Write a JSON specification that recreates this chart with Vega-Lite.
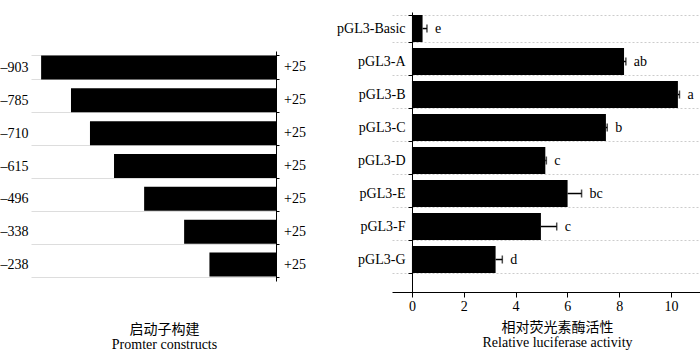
{
  "$schema": "https://vega.github.io/schema/vega-lite/v6.json",
  "padding": {"top": 5, "left": 0, "right": 0, "bottom": 0},
  "spacing": 30,
  "config": {
    "view": {"stroke": null},
    "font": "Liberation Serif",
    "axis": {"labelFont": "Liberation Serif", "titleFont": "Liberation Serif, Noto Sans CJK SC", "labelColor": "black", "titleColor": "black", "titleFontWeight": "normal"}
  },
  "datasets": {
    "constructs": [
      {"construct": "–903", "start": -903, "end": 25, "endLabel": "+25"},
      {"construct": "–785", "start": -785, "end": 25, "endLabel": "+25"},
      {"construct": "–710", "start": -710, "end": 25, "endLabel": "+25"},
      {"construct": "–615", "start": -615, "end": 25, "endLabel": "+25"},
      {"construct": "–496", "start": -496, "end": 25, "endLabel": "+25"},
      {"construct": "–338", "start": -338, "end": 25, "endLabel": "+25"},
      {"construct": "–238", "start": -238, "end": 25, "endLabel": "+25"}
    ],
    "activity": [
      {"name": "pGL3-Basic", "activity": 0.41, "upper": 0.58, "letter": "e"},
      {"name": "pGL3-A", "activity": 8.19, "upper": 8.26, "letter": "ab"},
      {"name": "pGL3-B", "activity": 10.27, "upper": 10.33, "letter": "a"},
      {"name": "pGL3-C", "activity": 7.49, "upper": 7.54, "letter": "b"},
      {"name": "pGL3-D", "activity": 5.15, "upper": 5.19, "letter": "c"},
      {"name": "pGL3-E", "activity": 6.01, "upper": 6.55, "letter": "bc"},
      {"name": "pGL3-F", "activity": 4.98, "upper": 5.59, "letter": "c"},
      {"name": "pGL3-G", "activity": 3.23, "upper": 3.49, "letter": "d"}
    ]
  },
  "hconcat": [
    {
      "spacing": 20,
      "vconcat": [
        {
          "width": 245,
          "height": 12,
          "data": {"values": [{}]},
          "mark": {"type": "text", "text": ""},
          "encoding": {}
        },
        {
          "width": 245,
          "height": 230,
          "data": {"name": "constructs"},
          "layer": [
            {
              "mark": {"type": "bar", "color": "black"},
              "encoding": {
                "y": {
                  "field": "construct", "type": "nominal", "sort": null,
                  "scale": {"paddingInner": 0.27, "paddingOuter": 0.135},
                  "axis": {"title": null, "orient": "left", "domain": false, "ticks": false, "labelPadding": 3, "labelFontSize": 14, "grid": true, "tickBand": "extent", "gridColor": "#dddddd", "gridWidth": 1}
                },
                "x": {
                  "field": "start", "type": "quantitative",
                  "scale": {"domain": [-943, 25], "nice": false, "zero": false},
                  "axis": {"orient": "bottom", "domain": false, "ticks": false, "labels": false, "grid": false, "title": ["启动子构建", "Promter constructs"], "titleFontSize": 14, "titleX": 133, "titleY": 48, "titleBaseline": "middle", "titleLineHeight": 15}
                },
                "x2": {"field": "end"}
              }
            },
            {
              "mark": {"type": "text", "align": "left", "dx": 8, "fontSize": 14, "baseline": "middle", "color": "black"},
              "encoding": {
                "y": {
                  "field": "construct", "type": "nominal", "sort": null,
                  "axis": {"orient": "right", "labels": false, "title": null, "domain": true, "domainColor": "black", "ticks": true, "tickBand": "extent", "tickSize": 3, "tickColor": "black", "grid": false}
                },
                "x": {"field": "end", "type": "quantitative"},
                "text": {"field": "endLabel"}
              }
            }
          ],
          "resolve": {"axis": {"y": "independent"}}
        }
      ]
    },
    {
      "width": 310,
      "height": 280,
      "data": {"name": "activity"},
      "layer": [
        {
          "mark": {"type": "bar", "color": "black"},
          "encoding": {
            "y": {
              "field": "name", "type": "nominal", "sort": null,
              "scale": {"paddingInner": 0.18, "paddingOuter": 0.333, "align": 0.137},
              "axis": {"title": null, "offset": -20, "domainColor": "black", "tickColor": "black", "tickSize": 4, "tickBand": "extent", "labelFontSize": 14, "labelPadding": 3, "grid": true, "gridColor": "#cccccc", "gridDash": [2, 2]}
            },
            "x": {
              "field": "activity", "type": "quantitative",
              "scale": {"domain": [-0.77, 11.2], "nice": false, "zero": false},
              "axis": {"title": ["相对荧光素酶活性", "Relative luciferase activity"], "values": [0, 1, 2, 3, 4, 5, 6, 7, 8, 9, 10, 11], "labelExpr": "datum.value % 2 === 0 ? datum.label : ''", "domainColor": "black", "tickColor": "black", "tickSize": 5, "labelFontSize": 14, "labelPadding": 2, "labelFlush": false, "grid": false, "titleFontSize": 14, "titleX": 165, "titleY": 35, "titleBaseline": "middle", "titleLineHeight": 15}
            },
            "x2": {"datum": 0}
          }
        },
        {
          "mark": {"type": "rule", "strokeWidth": 1.5, "color": "black"},
          "encoding": {
            "y": {"field": "name", "type": "nominal", "sort": null},
            "x": {"field": "activity", "type": "quantitative"},
            "x2": {"field": "upper"}
          }
        },
        {
          "mark": {"type": "tick", "thickness": 1.5, "size": 8, "color": "black", "orient": "vertical"},
          "encoding": {
            "y": {"field": "name", "type": "nominal", "sort": null},
            "x": {"field": "upper", "type": "quantitative"}
          }
        },
        {
          "mark": {"type": "text", "align": "left", "dx": 8, "fontSize": 14, "baseline": "middle", "color": "black"},
          "encoding": {
            "y": {"field": "name", "type": "nominal", "sort": null},
            "x": {"field": "upper", "type": "quantitative"},
            "text": {"field": "letter"}
          }
        }
      ]
    }
  ]
}
